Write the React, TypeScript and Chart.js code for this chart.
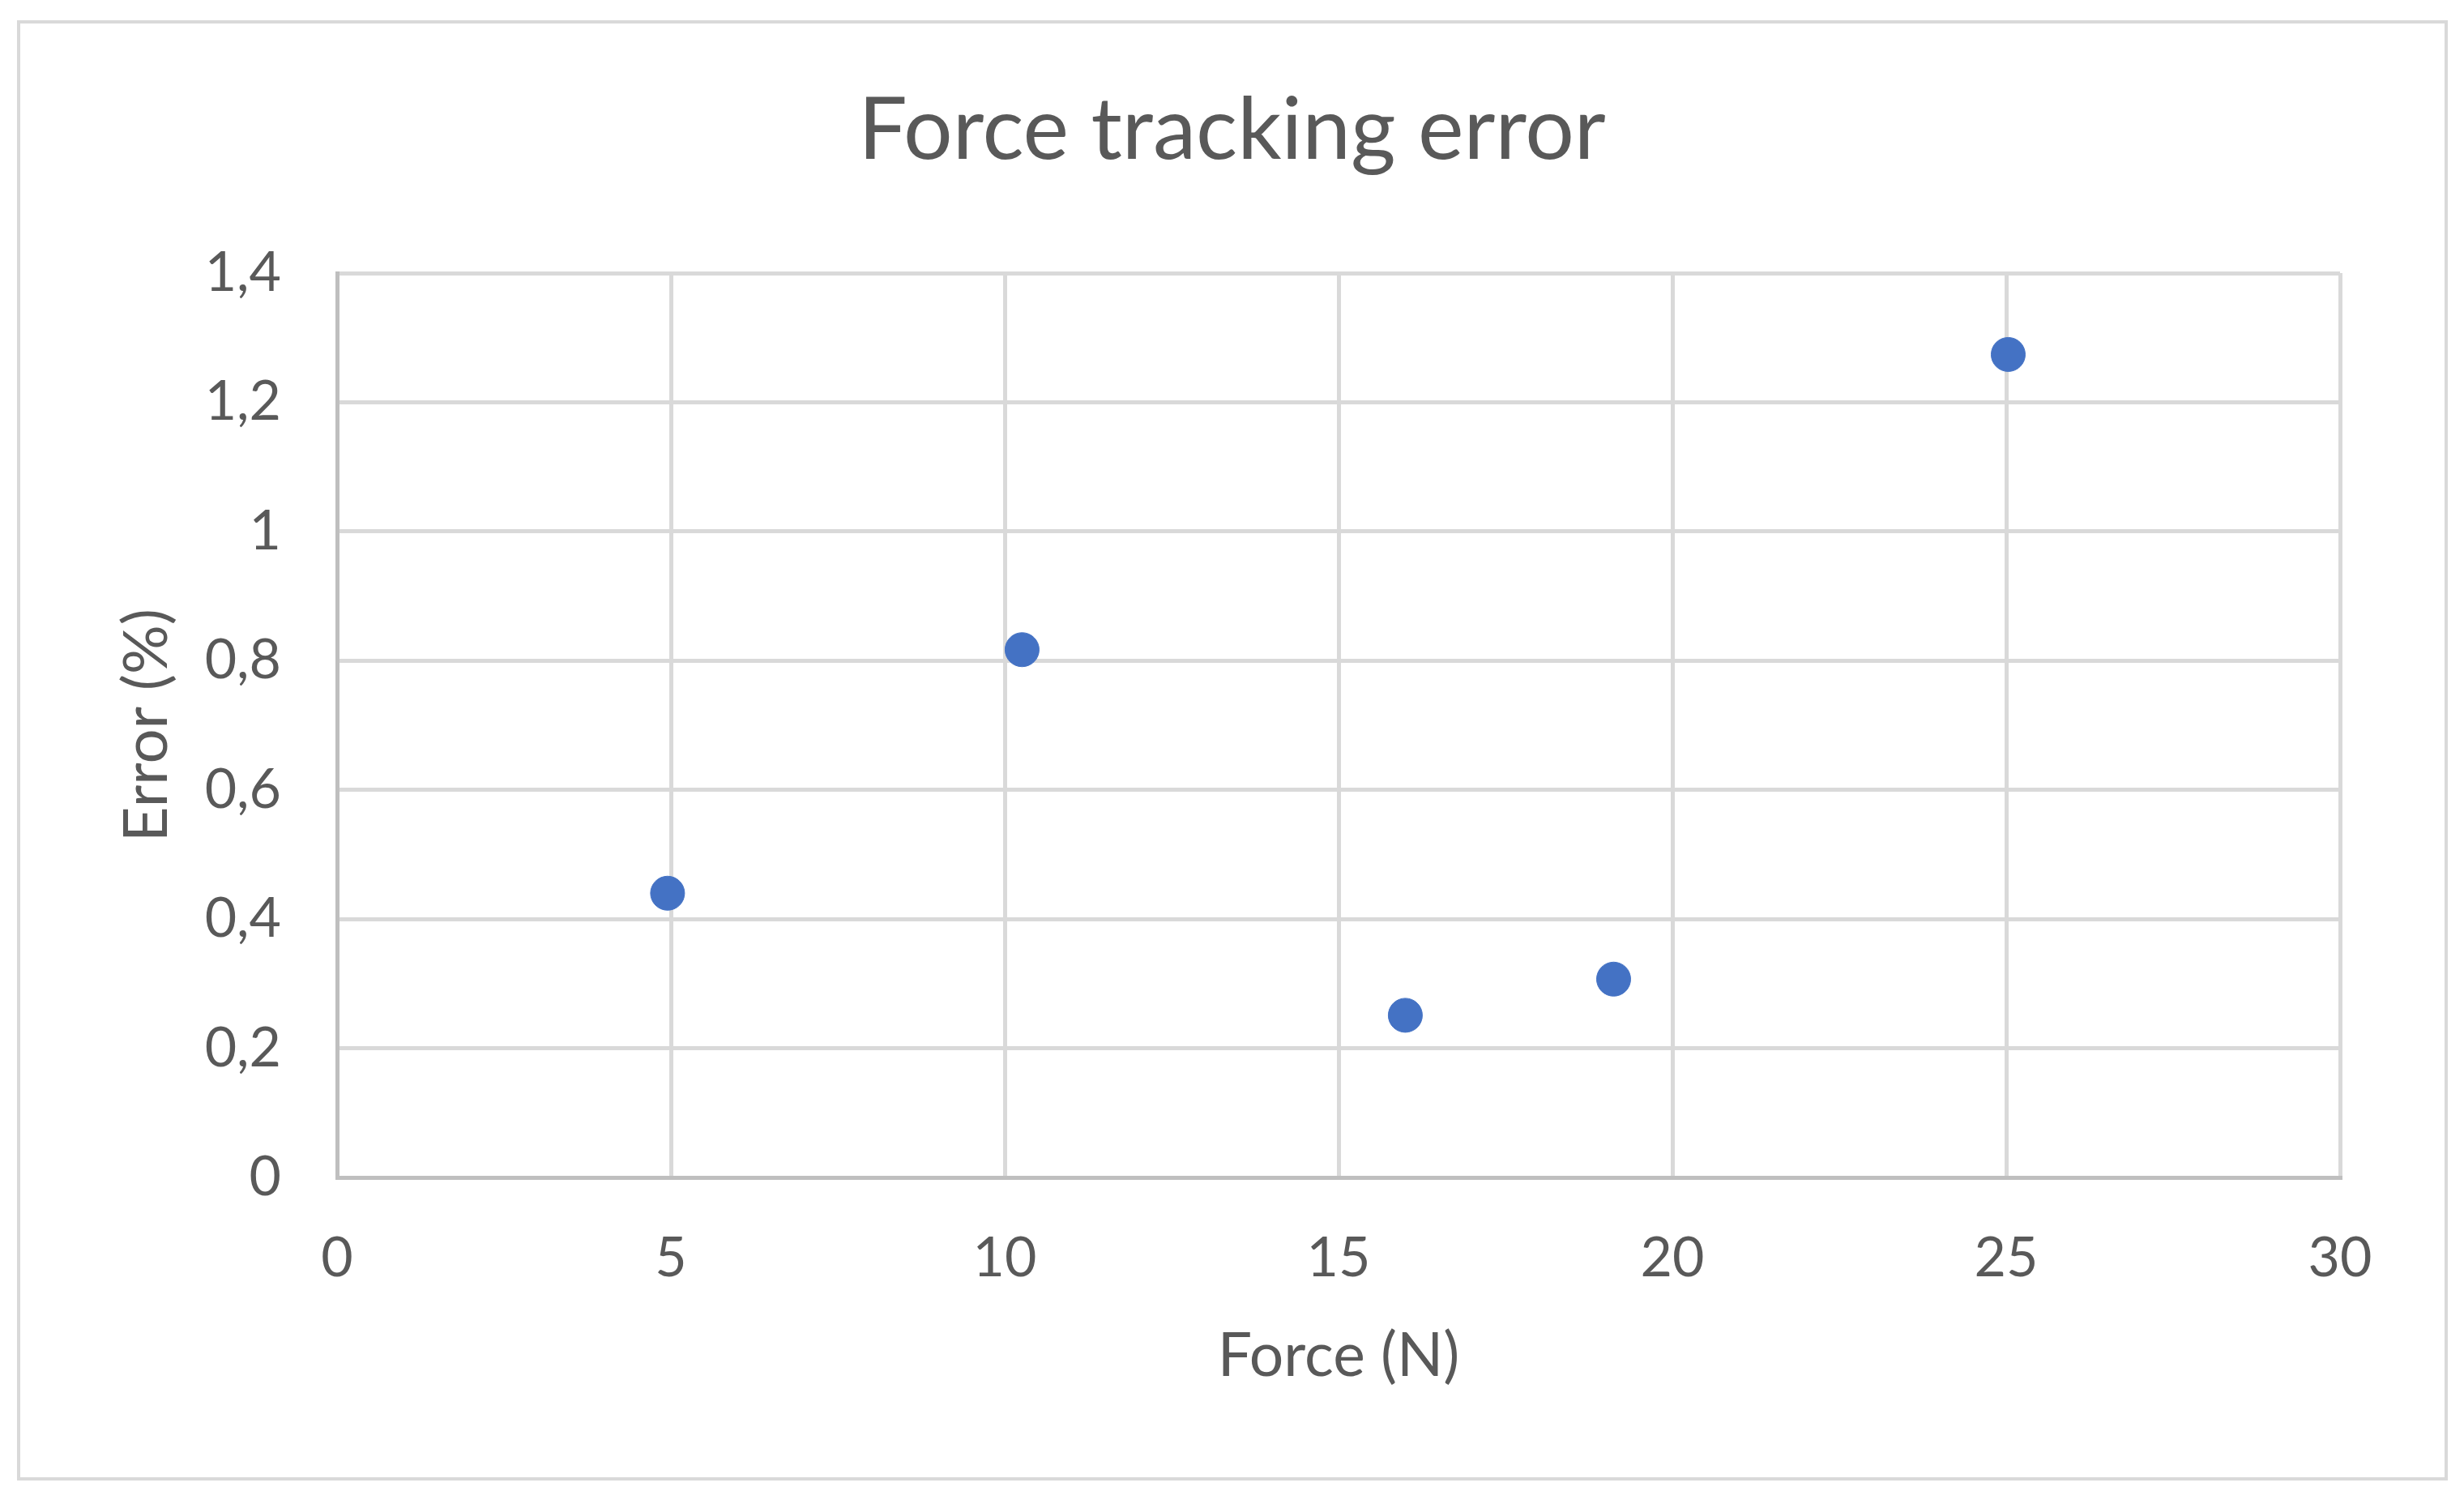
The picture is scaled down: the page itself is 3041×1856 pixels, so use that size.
import { useEffect, useRef } from 'react';
import { Chart, registerables } from 'chart.js';

Chart.register(...registerables);

// Force (N) and tracking error (%)
const forceValues = [4.95, 10.26, 16.0, 19.12, 25.03];
const errorValues = [0.44, 0.817, 0.251, 0.307, 1.274];

const xTicks = [0, 5, 10, 15, 20, 25, 30];
const yTicks = [0, 0.2, 0.4, 0.6, 0.8, 1, 1.2, 1.4];
const yTickLabels = ['0', '0,2', '0,4', '0,6', '0,8', '1', '1,2', '1,4'];

const TEXT = '#595959';
const FONT = 'Lato, "Open Sans", sans-serif';

export default function App() {
  const canvasRef = useRef<HTMLCanvasElement>(null);

  useEffect(() => {
    if (!canvasRef.current) return;

    const chart = new Chart(canvasRef.current, {
      type: 'scatter',
      data: {
        datasets: [
          {
            label: 'Error',
            data: forceValues.map((f, i) => ({ x: f, y: errorValues[i] })),
            backgroundColor: '#4472C4',
            borderColor: '#4472C4',
            borderWidth: 1,
            pointRadius: 21,
            pointHoverRadius: 21,
          },
        ],
      },
      options: {
        responsive: true,
        maintainAspectRatio: false,
        animation: false,
        events: [],
        layout: {
          padding: { left: 153, right: 153, top: 0, bottom: 0 },
        },
        plugins: {
          legend: { display: false },
          tooltip: { enabled: false },
          title: {
            display: true,
            text: 'Force tracking error',
            color: TEXT,
            font: { family: FONT, size: 107, weight: 'normal', lineHeight: 1.2 },
            padding: { top: 97, bottom: 111.6 },
          },
        },
        scales: {
          x: {
            type: 'linear',
            min: 0,
            max: 30,
            afterBuildTicks: (scale) => {
              scale.ticks = xTicks.map((v) => ({ value: v }));
            },
            afterFit: (scale) => {
              scale.height = 403;
            },
            grid: { color: '#d9d9d9', lineWidth: 5, drawTicks: false },
            border: { color: '#bfbfbf', width: 5 },
            ticks: {
              color: TEXT,
              padding: 59,
              maxRotation: 0,
              font: { family: FONT, size: 68, lineHeight: 1.2 },
              callback: (value) => String(value),
            },
            title: {
              display: true,
              text: 'Force (N)',
              color: TEXT,
              font: { family: FONT, size: 75, lineHeight: 1.2 },
              padding: { top: 0, bottom: 137 },
            },
          },
          y: {
            type: 'linear',
            min: 0,
            max: 1.4,
            afterBuildTicks: (scale) => {
              scale.ticks = yTicks.map((v) => ({ value: v }));
            },
            afterFit: (scale) => {
              scale.width = 263;
            },
            grid: { color: '#d9d9d9', lineWidth: 5, drawTicks: false },
            border: { color: '#bfbfbf', width: 5 },
            ticks: {
              color: TEXT,
              padding: 69,
              font: { family: FONT, size: 68, lineHeight: 1.2 },
              callback: (_value, index) => yTickLabels[index],
            },
            title: {
              display: true,
              text: 'Error (%)',
              color: TEXT,
              font: { family: FONT, size: 76, lineHeight: 0.7 },
              padding: { top: 2, bottom: 0 },
            },
          },
        },
      },
    });

    return () => chart.destroy();
  }, []);

  return (
    <div
      style={{
        position: 'fixed',
        left: 0,
        top: 0,
        width: 3041,
        height: 1856,
        background: '#ffffff',
      }}
    >
      <div
        style={{
          position: 'absolute',
          left: 21,
          top: 25,
          width: 3000,
          height: 1802,
          boxSizing: 'border-box',
          border: '4px solid #d9d9d9',
        }}
      />
      <canvas ref={canvasRef}></canvas>
    </div>
  );
}
